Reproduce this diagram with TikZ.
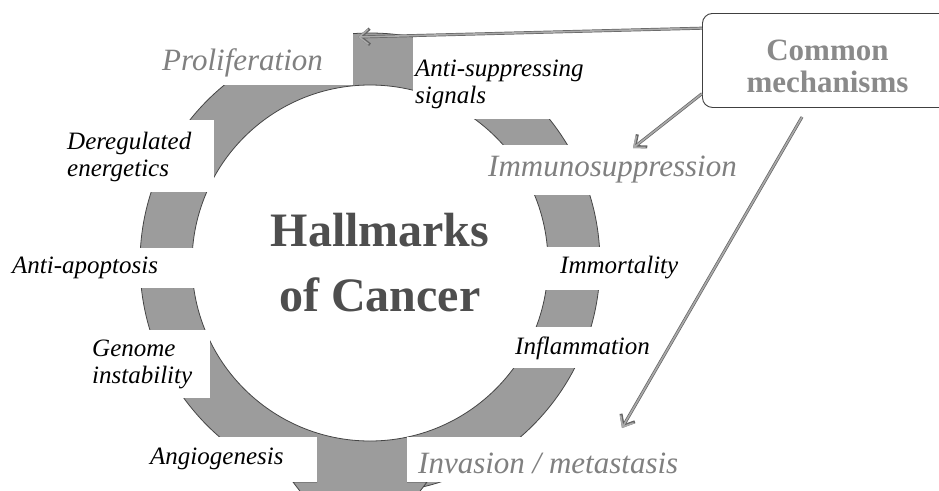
\documentclass[tikz,border=0pt]{standalone}
\usepackage{fontspec}
\setmainfont{Liberation Serif}
\usetikzlibrary{arrows.meta,calc}
\definecolor{ringgray}{RGB}{156,156,156}
\definecolor{ringedge}{RGB}{70,70,70}
\definecolor{lightlab}{RGB}{128,128,128}
\definecolor{titlegray}{RGB}{78,78,78}
\definecolor{boxtext}{RGB}{138,138,138}
\definecolor{arrowgray}{RGB}{170,170,170}
\definecolor{arrowedge}{RGB}{100,100,100}
\begin{document}
\begin{tikzpicture}[x=1pt,y=-1pt,
  lab/.style={font=\fontsize{25}{27}\selectfont\itshape, text=black, inner sep=0pt, anchor=west, align=left},
  glab/.style={font=\fontsize{31}{34}\selectfont\itshape, text=lightlab, inner sep=0pt, anchor=west},
  mask/.style={fill=white},
  conn/.style={draw=arrowgray, line width=1.6pt, -{Straight Barb[length=9pt,width=15pt]},
    preaction={draw=arrowedge, line width=3pt, -{Straight Barb[length=9.5pt,width=16pt]}}},
]
\useasboundingbox (0,0) rectangle (939,490);
\clip (0,0) rectangle (939,490);
\fill[white] (0,0) rectangle (939,490);

% ring of hallmarks
\path[fill=ringgray, draw=ringedge, line width=0.8pt, even odd rule]
  (370,263) circle[radius=230pt] (370,263) circle[radius=178pt];
% arrowhead at the bottom
\fill[ringgray] (293,482) -- (427,482) -- (360,570) -- cycle;
\draw[ringedge, line width=0.8pt] (317,482) -- (293,482) -- (360,570) -- (427,482) -- (407,482);

% white label areas cutting the ring
\fill[mask] (150,18) rectangle (353,85);
\fill[mask] (413,30) rectangle (600,119);
\fill[mask] (55,120) rectangle (214,192);
\fill[mask] (0,248) rectangle (197,288);
\fill[mask] (80,330) rectangle (210,398);
\fill[mask] (130,437) rectangle (317,482);
\fill[mask] (407,437) rectangle (740,482);
\fill[mask] (490,327) rectangle (670,368);
\fill[mask] (520,247) rectangle (700,290);
\fill[mask] (470,145) rectangle (780,195);

% labels
\node[glab] (prolif) at (162,63) {Proliferation};
\node[lab] (antisup) at (415,84) {Anti-suppressing\\signals};
\node[lab] (dereg) at (67,157) {Deregulated\\energetics};
\node[glab] (immuno) at (488,170) {Immunosuppression};
\node[lab] (apop) at (12,268) {Anti-apoptosis};
\node[lab] (immort) at (560,268) {Immortality};
\node[lab] (genome) at (92,364) {Genome\\instability};
\node[lab] (inflam) at (515,348) {Inflammation};
\node[lab] (angio) at (150,459) {Angiogenesis};
\node[glab] (invas) at (418,463) {Invasion / metastasis};

% title
\node[font=\fontsize{48}{65}\selectfont\bfseries, text=titlegray, align=center, inner sep=0pt]
  (hall) at (380,263) {Hallmarks\\of Cancer};

% common mechanisms box
\node[draw=black!75, line width=0.9pt, rounded corners=10pt, fill=white,
  anchor=north west, minimum width=250pt, inner sep=0pt, align=center,
  font=\fontsize{31}{32}\selectfont\bfseries, text=boxtext]
  (cm) at (702,13) {\rule{0pt}{47pt}Common\\mechanisms\rule[-15pt]{0pt}{15pt}};

\coordinate (t1) at (358,37);
\coordinate (t2) at (633,148);
\coordinate (s3) at (802,117);
\coordinate (t3) at (622,428);

\draw[conn] ($(cm.north west)!0.16!(cm.south west)$) -- (t1);
\draw[conn] ($(cm.north west)!0.85!(cm.south west)$) -- (t2);
\draw[conn] (s3) -- (t3);
\end{tikzpicture}
\end{document}
